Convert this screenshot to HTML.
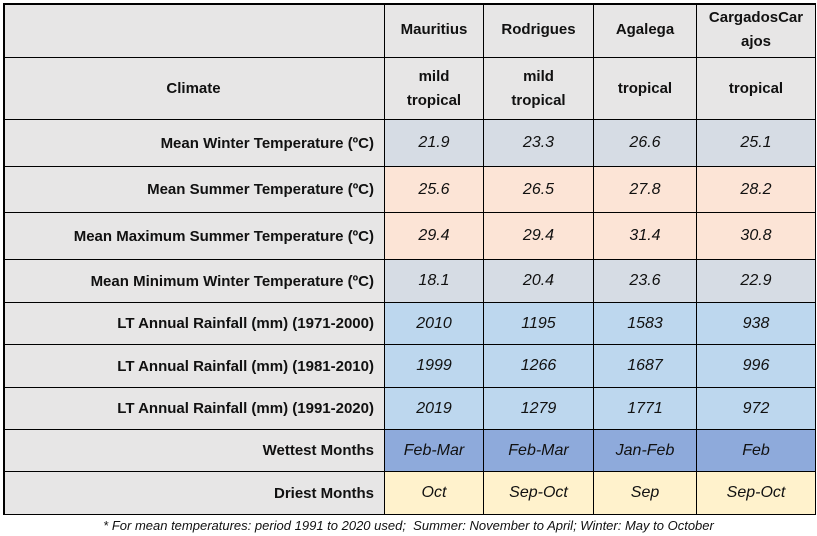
<!DOCTYPE html>
<html><head><meta charset="utf-8"><style>
body{margin:0;width:817px;height:536px;background:#fff;position:relative;font-family:"Liberation Sans",sans-serif;overflow:hidden}
.c{position:absolute;box-sizing:border-box;border-right:1px solid #000;border-bottom:1px solid #000;display:flex;align-items:center;justify-content:center;text-align:center;font-size:16px;color:#111}
.l{justify-content:flex-end;padding-right:10px;font-weight:bold;font-size:15px;background:#e7e6e6}
.h{font-weight:bold;font-size:15px;background:#e7e6e6;line-height:24px}
.d{font-style:italic}
#frame{position:absolute;left:3px;top:3px;width:813px;height:512px;box-sizing:border-box;border:2px solid #000;border-right:1px solid #000;border-bottom:1px solid #000;pointer-events:none}
.f{position:absolute;left:0;width:817px;top:518px;text-align:center;font-style:italic;font-size:13px;color:#111}
</style></head><body>
<div id="t"></div>
<script>
var xs=[3,385,484,594,697,816];
var ys=[3,58,120,167,213,260,303,345,388,430,472,515];
var rows=[
["",["Mauritius","Rodrigues","Agalega","CargadosCar<br>ajos"],"h","#e7e6e6"],
["Climate",["mild<br>tropical","mild<br>tropical","tropical","tropical"],"h","#e7e6e6"],
["Mean Winter Temperature (ºC)",["21.9","23.3","26.6","25.1"],"d","#d6dce4"],
["Mean Summer Temperature (ºC)",["25.6","26.5","27.8","28.2"],"d","#fce4d6"],
["Mean Maximum Summer Temperature (ºC)",["29.4","29.4","31.4","30.8"],"d","#fce4d6"],
["Mean Minimum Winter Temperature (ºC)",["18.1","20.4","23.6","22.9"],"d","#d6dce4"],
["LT Annual Rainfall (mm) (1971-2000)",["2010","1195","1583","938"],"d","#bdd7ee"],
["LT Annual Rainfall (mm) (1981-2010)",["1999","1266","1687","996"],"d","#bdd7ee"],
["LT Annual Rainfall (mm) (1991-2020)",["2019","1279","1771","972"],"d","#bdd7ee"],
["Wettest Months",["Feb-Mar","Feb-Mar","Jan-Feb","Feb"],"d","#8eaadb"],
["Driest Months",["Oct","Sep-Oct","Sep","Sep-Oct"],"d","#fff2cc"]];
var h="";
rows.forEach(function(r,i){
 var y=ys[i],hh=ys[i+1]-y;
 h+='<div class="c l" style="left:'+xs[0]+'px;top:'+y+'px;width:'+(xs[1]-xs[0])+'px;height:'+hh+'px;'+(i<2?'justify-content:center;padding-right:0':'')+'">'+r[0]+'</div>';
 for(var j=0;j<4;j++){
  h+='<div class="c '+r[2]+'" style="left:'+xs[j+1]+'px;top:'+y+'px;width:'+(xs[j+2]-xs[j+1])+'px;height:'+hh+'px;background:'+r[3]+'">'+r[1][j]+'</div>';
 }
});
h+='<div id="frame"></div><div class="f">* For mean temperatures: period 1991 to 2020 used;&nbsp; Summer: November to April; Winter: May to October</div>';
document.body.innerHTML=h;
</script>
</body></html>
